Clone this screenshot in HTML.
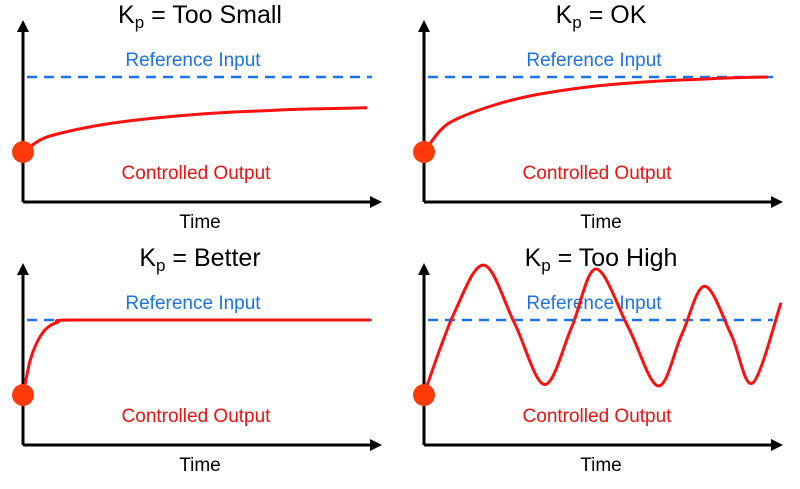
<!DOCTYPE html>
<html><head><meta charset="utf-8"><style>
body{margin:0;background:#fff;width:800px;height:489px;overflow:hidden}
svg{display:block;font-family:"Liberation Sans","DejaVu Sans",sans-serif}
</style></head><body>
<svg id="c" width="800" height="489" viewBox="0 0 800 489"></svg>
<script>
// Each panel: time fraction (0..1) and output as fraction of reference (0 = start level, 1 = reference)
const titles = ["Too Small", "OK", "Better", "Too High"];
const tSmall = [0,0.05,0.1,0.2,0.3,0.4,0.5,0.6,0.7,0.8,0.9,1];
const vSmall = [0,0.16,0.24,0.34,0.41,0.46,0.50,0.53,0.55,0.57,0.58,0.59];
const tOk = [0,0.05,0.1,0.2,0.3,0.4,0.5,0.6,0.7,0.8,0.9,1];
const vOk = [0,0.30,0.45,0.62,0.74,0.82,0.88,0.92,0.95,0.97,0.99,1];
const tBetter = [0,0.02,0.04,0.06,0.08,0.1,0.135,0.5,1];
const vBetter = [0,0.45,0.70,0.85,0.93,0.97,1,1,1];
const tHigh = [0,0.08,0.164,0.25,0.334,0.41,0.479,0.57,0.654,0.72,0.785,0.86,0.92,1];
const vHigh = [0.09,1.1,1.73,0.95,0.14,0.9,1.68,0.9,0.12,0.8,1.45,0.8,0.16,1.23];
const panelT = [tSmall,tOk,tBetter,tHigh];
const panelV = [vSmall,vOk,vBetter,vHigh];

const NS="http://www.w3.org/2000/svg", svg=document.getElementById('c');
function mk(tag,attrs,parent,text){const e=document.createElementNS(NS,tag);for(const k in attrs)e.setAttribute(k,attrs[k]);if(text!==undefined)e.textContent=text;(parent||svg).appendChild(e);return e;}
const origins=[[0,0],[401,0],[0,243],[401,243]];
const curveEnd=[367,367,370,380];
origins.forEach(([ox,oy],i)=>{
  const g=mk('g',{});
  
  
  const ax=23+ox, top=20+oy, base=202+oy, right=382+ox;
  const y0=152+oy, yRef=77+oy;
  const x0 = i===3 ? 426+0 : ax, x1=curveEnd[i]+ox;
  const X=t=>x0+t*(x1-x0), Y=v=>y0-v*(y0-yRef);
  const ya=mk('path',{d:`M${ax} ${base}V${top+10}`,stroke:'#000','stroke-width':3,fill:'none'},g);
  
  const yh=mk('path',{d:`M${ax-6} ${top+12}L${ax} ${top}L${ax+6} ${top+12}Z`,fill:'#000'},g);
  
  const xa=mk('path',{d:`M${ax} ${base}H${right-10}`,stroke:'#000','stroke-width':3,fill:'none'},g);
  
  const xh=mk('path',{d:`M${right-12} ${base-6}L${right} ${base}L${right-12} ${base+6}Z`,fill:'#000'},g);
  
  const tt=mk('text',{x:200+ox,y:23+oy,'font-size':25,'text-anchor':'middle',fill:'#000'},g);
  
  mk('tspan',{},tt,'K');mk('tspan',{'font-size':17,dy:5},tt,'p');mk('tspan',{dy:-5},tt,' = '+titles[i]);
  const rl=mk('text',{x:193+ox,y:66+oy,'font-size':19,'text-anchor':'middle',fill:'#1a73e8'},g,'Reference Input');
  
  const dl=mk('line',{x1:ax+4,x2:372+ox,y1:yRef,y2:yRef,stroke:'#1a73e8','stroke-width':2.5,'stroke-dasharray':'10,7'},g);
  
  const cl=mk('text',{x:196+ox,y:179+oy,'font-size':19,'text-anchor':'middle',fill:'#ee1111'},g,'Controlled Output');
  
  const tl=mk('text',{x:200+ox,y:228+oy,'font-size':19,'text-anchor':'middle',fill:'#000'},g,'Time');
  
  const T=panelT[i],V=panelV[i];const P=T.map((t,k)=>[X(t),Y(V[k])]);
  let d=`M${P[0][0]} ${P[0][1]}`;
  for(let k=0;k<P.length-1;k++){
    const p0=P[Math.max(0,k-1)],p1=P[k],p2=P[k+1],p3=P[Math.min(P.length-1,k+2)];
    const c1=[p1[0]+(p2[0]-p0[0])/6,p1[1]+(p2[1]-p0[1])/6],c2=[p2[0]-(p3[0]-p1[0])/6,p2[1]-(p3[1]-p1[1])/6];
    if(i===2&&k>=5){c1[1]=Math.max(Math.min(c1[1],Math.max(p1[1],p2[1])),Math.min(p1[1],p2[1]));c2[1]=Math.max(Math.min(c2[1],Math.max(p1[1],p2[1])),Math.min(p1[1],p2[1]));}
    d+=`C${c1[0]} ${c1[1]} ${c2[0]} ${c2[1]} ${p2[0]} ${p2[1]}`;
  }
  const cv=mk('path',{d,stroke:'#ff1010','stroke-width':3,fill:'none'},g);
  
  const dot=mk('circle',{cx:ax,cy:y0,r:11,fill:'#ff3a0a'},g);
  
});
</script>
</body></html>
